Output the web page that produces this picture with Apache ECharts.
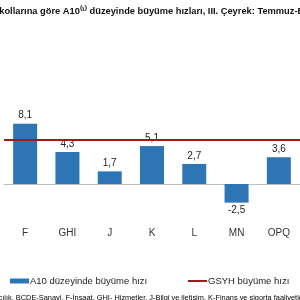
<!DOCTYPE html>
<html><head><meta charset="utf-8">
<script src="https://cdn.jsdelivr.net/npm/echarts@6/dist/echarts.min.js"></script>
<style>html,body{margin:0;padding:0;background:#fff}#c{width:300px;height:300px}</style>
</head><body><div id="c"></div>
<script>
var categories = ['F', 'GHI', 'J', 'K', 'L', 'MN', 'OPQ'];
var a10Growth = [8.1, 4.3, 1.7, 5.1, 2.7, -2.5, 3.6];
var gdpGrowth = 5.9;
var titleText = 'İktisadi faaliyet kollarına göre A10⁽¹⁾ düzeyinde büyüme hızları, III. Çeyrek: Temmuz-Eylül';
var footText = 'A-Tarım, ormancılık ve balıkçılık, BCDE-Sanayi, F-İnşaat, GHI- Hizmetler, J-Bilgi ve iletişim, K-Finans ve sigorta faaliyetleri';

var chart = echarts.init(document.getElementById('c'), null, {renderer: 'canvas'});
var fmt = function (v) { return String(v).replace('.', ','); };
chart.setOption({
  animation: false,
  textStyle: {fontFamily: 'Liberation Sans'},
  title: [{
    text: titleText, left: -75, top: 2,
    textStyle: {fontSize: 9.3, fontWeight: 'bold', color: '#111', fontFamily: 'Liberation Sans'}
  }, {
    text: footText, left: -98, top: 289,
    textStyle: {fontSize: 7.4, fontWeight: 'normal', color: '#000', fontFamily: 'Liberation Sans'}
  }],
  legend: [{
    data: [{name: 'A10 düzeyinde büyüme hızı', icon: 'rect'}],
    left: 10, top: 276, padding: 0, itemWidth: 19, itemHeight: 5, itemGap: 0,
    textStyle: {fontSize: 9.5, color: '#222', padding: [0, 0, 0, -4]}
  }, {
    data: [{name: 'GSYH büyüme hızı', icon: 'rect'}],
    left: 188, top: 276, padding: 0, itemWidth: 19, itemHeight: 2,
    textStyle: {fontSize: 9.5, color: '#222', padding: [0, 0, 0, -4]}
  }],
  grid: {left: 4, right: 0, top: 94.7, bottom: 86.2},
  xAxis: {
    type: 'category', data: categories,
    axisLine: {lineStyle: {color: '#BFBFBF', width: 1}},
    axisTick: {show: false},
    axisLabel: {margin: 14, fontSize: 10, color: '#333'}
  },
  yAxis: {type: 'value', min: -4, max: 12, show: false, splitLine: {show: false}},
  series: [{
    name: 'A10 düzeyinde büyüme hızı', type: 'bar', barWidth: 24,
    itemStyle: {color: '#2E75B6'},
    data: a10Growth.map(function (v) {
      return {value: v, label: {position: v < 0 ? 'bottom' : 'top'}};
    }),
    label: {show: true, fontSize: 10, distance: 3, color: '#222', formatter: function (p) { return fmt(p.value); }},
    z: 2
  }, {
    name: 'GSYH büyüme hızı', type: 'line', data: [],
    itemStyle: {color: '#9C1C1C'}, lineStyle: {color: '#9C1C1C', width: 2},
    markLine: {
      symbol: 'none', silent: true, label: {show: false},
      lineStyle: {color: '#9C1C1C', width: 2, type: 'solid'},
      data: [{yAxis: gdpGrowth}]
    },
    z: 3
  }]
});
</script></body></html>
